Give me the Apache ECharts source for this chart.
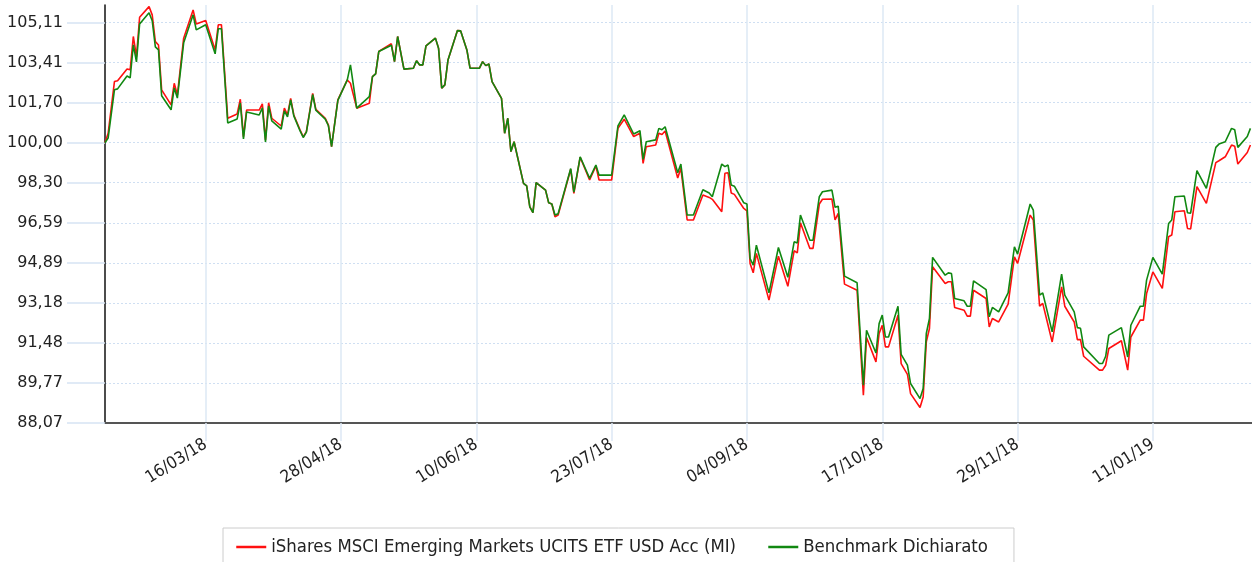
<!DOCTYPE html>
<html>
<head>
<meta charset="utf-8">
<script src="https://cdn.jsdelivr.net/npm/echarts@6/dist/echarts.min.js"></script>
<style>
html,body{margin:0;padding:0;background:#fff;}
#chart{width:1252px;height:562px;}
</style>
</head>
<body>
<div id="chart"></div>
<script>
// ---- data ----
const startDate = '2018-02-12';
const seriesNames = ['iShares MSCI Emerging Markets UCITS ETF USD Acc (MI)', 'Benchmark Dichiarato'];
const dayOffset = [0,1,3,4,7,8,9,10,11,14,15,16,17,18,21,22,23,25,28,29,32,35,36,37,39,42,43,44,45,49,50,51,52,53,56,57,58,59,60,62,
63,64,66,67,70,71,72,74,77,78,80,84,85,86,87,91,92,93,95,98,99,100,101,102,105,106,107,108,109,112,113,115,116,119,120,121,122,
123,126,127,128,129,130,133,134,135,136,137,140,141,142,143,144,148,149,151,154,156,157,161,163,165,168,170,171,172,175,176,177,178,
182,183,185,187,190,192,193,196,197,198,199,200,203,204,205,206,207,211,214,217,219,220,221,224,225,227,228,231,232,233,235,239,
241,242,245,246,247,248,249,252,253,255,256,259,260,261,262,263,267,268,269,270,273,274,275,276,280,281,282,284,287,289,290,294,295,297,298,
301,304,305,308,309,310,311,316,317,318,319,323,325,326,329,330,331,333,336,338,339,340,343,344,345,347,350,353,354,356,358,359,360,363,364];
const ishares = [100.00,100.40,102.60,102.64,103.14,103.10,104.52,103.66,105.34,105.79,105.44,104.30,104.16,102.25,101.61,102.53,102.03,104.45,105.65,105.05,105.20,103.95,105.02,105.02,101.04,101.22,101.85,100.26,101.39,101.39,101.65,100.12,101.70,101.04,100.71,101.47,101.18,101.89,101.18,100.54,
100.25,100.47,102.10,101.42,101.04,100.75,99.83,101.82,102.67,102.53,101.47,101.68,102.81,102.93,103.88,104.21,103.45,104.52,103.13,103.17,103.49,103.31,103.31,104.12,104.45,104.02,102.32,102.46,103.52,104.77,104.76,103.95,103.17,103.17,103.45,103.28,103.35,
102.60,101.89,100.40,101.04,99.62,100.04,98.27,98.16,97.27,97.02,98.30,97.98,97.44,97.39,96.85,96.92,98.87,97.84,99.38,98.41,99.01,98.41,98.41,100.61,101.00,100.26,100.40,99.12,99.83,99.90,100.40,100.35,100.50,
98.50,98.91,96.71,96.71,97.77,97.67,97.59,97.06,98.70,98.72,97.86,97.80,97.20,97.10,94.86,94.46,95.29,93.30,95.17,93.89,95.40,95.31,96.59,95.50,95.50,97.39,97.59,97.60,96.71,96.99,93.98,93.72,
89.25,91.71,90.67,91.88,92.23,91.31,91.31,92.66,90.60,90.14,89.32,88.73,89.18,91.52,92.09,94.72,94.01,94.08,94.08,92.99,92.87,92.62,92.62,93.72,93.37,92.16,92.52,92.37,93.13,95.14,94.86,96.92,96.71,93.04,93.16,
91.52,93.86,93.04,92.37,91.62,91.62,90.91,90.32,90.32,90.53,91.24,91.57,90.32,91.73,92.45,92.45,93.58,94.50,93.80,96.00,96.07,97.06,97.10,96.35,96.33,98.13,97.42,99.15,99.23,99.40,99.90,99.85,99.09,99.58,99.90];
const benchmark = [100.00,100.20,102.25,102.29,102.84,102.76,104.16,103.44,105.05,105.53,105.19,104.08,103.95,102.00,101.40,102.33,101.90,104.25,105.44,104.80,105.02,103.78,104.85,104.85,100.84,101.01,101.69,100.16,101.31,101.18,101.48,100.03,101.56,100.93,100.58,101.35,101.10,101.82,101.14,100.50,
100.22,100.45,102.05,101.38,101.00,100.72,99.83,101.80,102.67,103.31,101.47,101.96,102.81,102.93,103.88,104.15,103.45,104.52,103.13,103.17,103.49,103.31,103.31,104.12,104.45,104.02,102.32,102.46,103.52,104.77,104.76,103.95,103.17,103.17,103.45,103.28,103.35,
102.60,101.89,100.40,101.04,99.62,100.04,98.27,98.16,97.27,97.02,98.30,97.98,97.44,97.39,96.92,96.98,98.90,97.90,99.40,98.48,99.05,98.62,98.62,100.71,101.18,100.37,100.51,99.29,100.04,100.12,100.61,100.55,100.68,
98.72,99.09,96.92,96.92,98.00,97.86,97.70,99.09,98.98,99.05,98.20,98.15,97.44,97.39,95.07,94.79,95.64,93.61,95.54,94.27,95.78,95.73,96.92,95.85,95.85,97.70,97.91,97.98,97.25,97.30,94.32,94.04,
89.68,92.02,91.05,92.30,92.66,91.73,91.73,93.04,90.99,90.53,89.75,89.11,89.54,91.88,92.52,95.12,94.36,94.46,94.43,93.37,93.27,93.04,93.04,94.12,93.75,92.59,92.99,92.80,93.61,95.57,95.26,97.39,97.13,93.51,93.61,
91.95,94.41,93.51,92.80,92.13,92.10,91.31,90.60,90.60,90.91,91.81,92.13,90.88,92.23,93.04,93.04,94.15,95.12,94.41,96.56,96.71,97.70,97.73,97.02,97.00,98.81,98.06,99.80,99.94,100.04,100.61,100.55,99.80,100.26,100.61];
const xTickDates = ['2018-03-16','2018-04-28','2018-06-10','2018-07-23','2018-09-04','2018-10-17','2018-11-29','2019-01-11'];
const yTicks = [88.07, 89.77, 91.48, 93.18, 94.89, 96.59, 98.30, 100.00, 101.70, 103.41, 105.11];

// ---- build ----
const DAY = 86400000;
function ts(s){ const p = s.split('-').map(Number); return Date.UTC(p[0], p[1]-1, p[2]); }
const t0 = ts(startDate);
const redData = dayOffset.map((d,i) => [t0 + d*DAY, ishares[i]]);
const greenData = dayOffset.map((d,i) => [t0 + d*DAY, benchmark[i]]);
const xTicks = xTickDates.map(ts);
function pad(n){ return (n<10?'0':'') + n; }
function fmtDate(v){ const d = new Date(v); return pad(d.getUTCDate()) + '/' + pad(d.getUTCMonth()+1) + '/' + pad(d.getUTCFullYear()%100); }

const chart = echarts.init(document.getElementById('chart'), null, {renderer:'canvas'});
const condensed = '"DejaVu Sans Condensed", "Liberation Sans Narrow", "DejaVu Sans", sans-serif';
chart.setOption({
  animation: false,
  backgroundColor: '#fff',
  grid: { left: 105, right: 0, top: 5, bottom: 139, containLabel: false },
  xAxis: {
    type: 'value',
    min: t0,
    max: t0 + 364.5*DAY,
    axisLine: { show: true, lineStyle: { color: '#555', width: 2 } },
    axisTick: { show: true, customValues: xTicks, length: 18, lineStyle: { color: '#dde8f5', width: 1.5 } },
    splitLine: { show: true, lineStyle: { color: '#dde8f5', width: 1.5, type: 'solid' } },
    axisLabel: {
      customValues: xTicks,
      formatter: fmtDate,
      rotate: 32,
      margin: 20,
      color: '#222',
      fontSize: 17,
      fontFamily: condensed
    }
  },
  yAxis: {
    type: 'value',
    min: 88.07,
    max: 105.86,
    axisLine: { show: true, lineStyle: { color: '#111', width: 1.5 } },
    axisTick: { show: true, customValues: yTicks, length: 38, lineStyle: { color: '#d6e4f4', width: 1.5 } },
    splitLine: { show: true, lineStyle: { color: '#cfdff2', width: 1, type: [2, 2] } },
    axisLabel: {
      customValues: yTicks,
      formatter: v => v.toFixed(2).replace('.', ','),
      margin: 42,
      color: '#222',
      fontSize: 16,
      fontFamily: '"DejaVu Sans", Verdana, sans-serif'
    }
  },
  legend: {
    show: true,
    left: 223,
    top: 528,
    orient: 'horizontal',
    padding: [10, 26, 10, 12],
    itemGap: 31,
    itemWidth: 30,
    itemHeight: 14,
    borderColor: '#cccccc',
    borderWidth: 1,
    itemStyle: { opacity: 0 },
    lineStyle: { width: 2.5 },
    textStyle: { color: '#222', fontSize: 18.4, fontFamily: condensed },
    data: seriesNames
  },
  series: [
    { name: seriesNames[0], type: 'line', data: redData, symbol: 'none', showSymbol: false,
      lineStyle: { color: '#ff1010', width: 1.6 }, itemStyle: { color: '#ff1010' } },
    { name: seriesNames[1], type: 'line', data: greenData, symbol: 'none', showSymbol: false,
      lineStyle: { color: '#118811', width: 1.6 }, itemStyle: { color: '#118811' } }
  ]
});
</script>
</body>
</html>
